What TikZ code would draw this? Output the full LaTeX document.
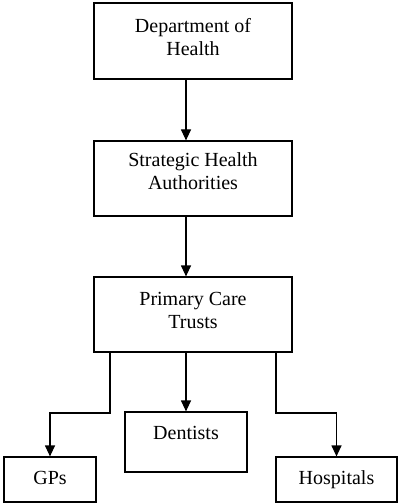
\documentclass[tikz,border=0pt]{standalone}
\usepackage{fontspec}
\setmainfont{Liberation Serif}
\usetikzlibrary{arrows.meta}

\begin{document}
\begin{tikzpicture}[x=1bp,y=-1bp]
    \tikzset{unit/.style   = {draw, line width=1.2bp,
        align           = center,
        inner sep       = 0pt,
        font            = \fontsize{20bp}{23bp}\selectfont},
        link/.style     = {line width=1.2bp,
        -{Triangle[length=11bp,width=10bp]}}}
    
    \def\Wide{198bp};
    \def\Tall{75bp};
    
    \useasboundingbox (0,0) rectangle (398,504);
    
    % Draw the chain of command.
    \node[unit, minimum width=\Wide, minimum height=76bp, text depth=8bp] (doh) at (193,41) {Department of\\Health};
    \node[unit, minimum width=\Wide, minimum height=\Tall, text depth=14bp] (sha) at (193,178.5) {Strategic Health\\Authorities};
    \node[unit, minimum width=\Wide, minimum height=\Tall, text depth=8bp] (pct) at (193,314.5) {Primary Care\\Trusts};
    
    % Draw the providers.
    \node[unit, minimum width=92bp, minimum height=45bp, text depth=4bp] (gps) at (50,479.5) {GPs};
    \node[unit, minimum width=122bp, minimum height=60bp, text depth=18bp] (dent) at (186,442) {Dentists};
    \node[unit, minimum width=121bp, minimum height=45bp, text depth=4bp] (hosp) at (336.5,479.5) {Hospitals};
    
    \coordinate (gpsbend) at (110,413);
    \coordinate (hospbend) at (276,413);
    
    % Draw the arrows.
    \draw[link] (dent |- doh.south) -- (dent |- sha.north);
    \draw[link] (dent |- sha.south) -- (dent |- pct.north);
    \draw[link] (dent |- pct.south) -- (dent.north);
    \draw[link] (gpsbend |- pct.south) -- (gpsbend) -| (gps.north);
    \draw[link] (hospbend |- pct.south) -- (hospbend) -| (hosp.north);
\end{tikzpicture}
\end{document}
